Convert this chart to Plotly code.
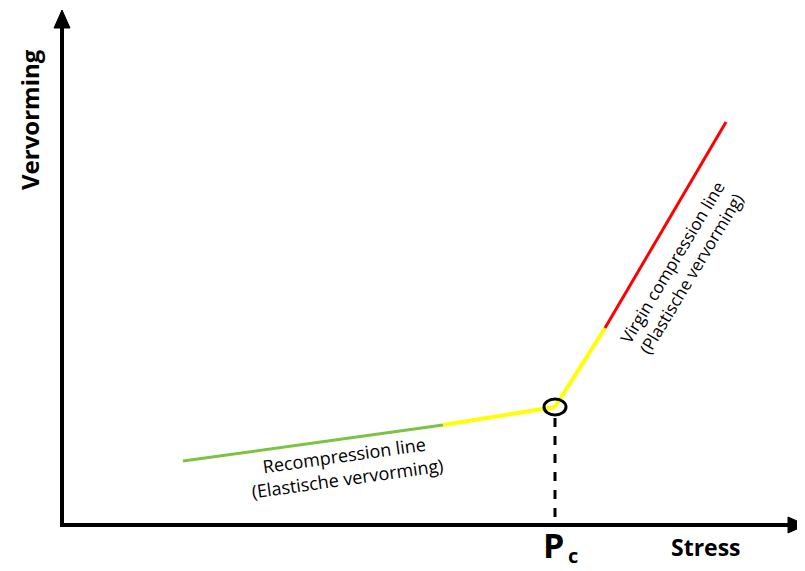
import plotly.graph_objects as go

# Data (arbitrary units: stress along x, deformation along y)
recomp_stress = [121, 381]
recomp_def = [64, 100]
recomp_yellow_stress = [381, 493]
recomp_yellow_def = [100, 118]
virgin_yellow_stress = [493, 543]
virgin_yellow_def = [118, 197]
virgin_stress = [543, 664]
virgin_def = [197, 403]
pc_stress = 493
pc_def = 118

fig = go.Figure()
fig.add_trace(go.Scatter(x=recomp_stress, y=recomp_def, mode="lines",
                         line=dict(color="#7dc242", width=3), hoverinfo="skip"))
fig.add_trace(go.Scatter(x=recomp_yellow_stress, y=recomp_yellow_def, mode="lines",
                         line=dict(color="#ffff00", width=4), hoverinfo="skip"))
fig.add_trace(go.Scatter(x=virgin_yellow_stress, y=virgin_yellow_def, mode="lines",
                         line=dict(color="#ffff00", width=4), hoverinfo="skip"))
fig.add_trace(go.Scatter(x=virgin_stress, y=virgin_def, mode="lines",
                         line=dict(color="#ff0000", width=3), hoverinfo="skip"))

shapes = []
# dashed line from Pc down to x axis
shapes.append(dict(type="line", x0=pc_stress, x1=pc_stress, y0=pc_def - 11, y1=0,
                   line=dict(color="black", width=3, dash="dash")))
# circle at Pc
shapes.append(dict(type="circle", x0=pc_stress - 11, x1=pc_stress + 11,
                   y0=pc_def - 8, y1=pc_def + 8, line=dict(color="black", width=3)))
# axes
shapes.append(dict(type="line", x0=0, x1=0, y0=-2, y1=500, line=dict(color="black", width=4)))
shapes.append(dict(type="line", x0=-2, x1=730, y0=0, y1=0, line=dict(color="black", width=4)))
shapes.append(dict(type="path", path="M -8,497 L 8,497 L 0,515 Z",
                   fillcolor="black", line=dict(color="black", width=1)))
shapes.append(dict(type="path", path="M 726,-8 L 726,8 L 744,0 Z",
                   fillcolor="black", line=dict(color="black", width=1)))

annotations = [
    dict(x=-33, y=405, text="<b>Vervorming</b>", textangle=-90, showarrow=False,
         font=dict(family="Open Sans", size=24, color="black")),
    dict(x=491, y=-20, text="<b>P</b>", showarrow=False,
         font=dict(family="Open Sans", size=34, color="black")),
    dict(x=511, y=-30, text="<b>c</b>", showarrow=False,
         font=dict(family="Open Sans", size=20, color="black")),
    dict(x=644, y=-22, text="<b>Stress</b>", showarrow=False,
         font=dict(family="Open Sans", size=23, color="black")),
    dict(x=283, y=59, text="Recompression line<br>(Elastische vervorming)", textangle=-8,
         showarrow=False, font=dict(family="Open Sans", size=18, color="black")),
    dict(x=619, y=257, text="Virgin compression line<br>(Plastische vervorming)", textangle=-59,
         showarrow=False, font=dict(family="Open Sans", size=17, color="black")),
]

fig.update_layout(
    width=805, height=571,
    margin=dict(l=0, r=0, t=0, b=0),
    paper_bgcolor="white", plot_bgcolor="white",
    showlegend=False,
    xaxis=dict(range=[-54, 751], visible=False, fixedrange=True),
    yaxis=dict(range=[-54, 517], visible=False, fixedrange=True),
    shapes=shapes, annotations=annotations,
)
fig.write_html("out.html")
